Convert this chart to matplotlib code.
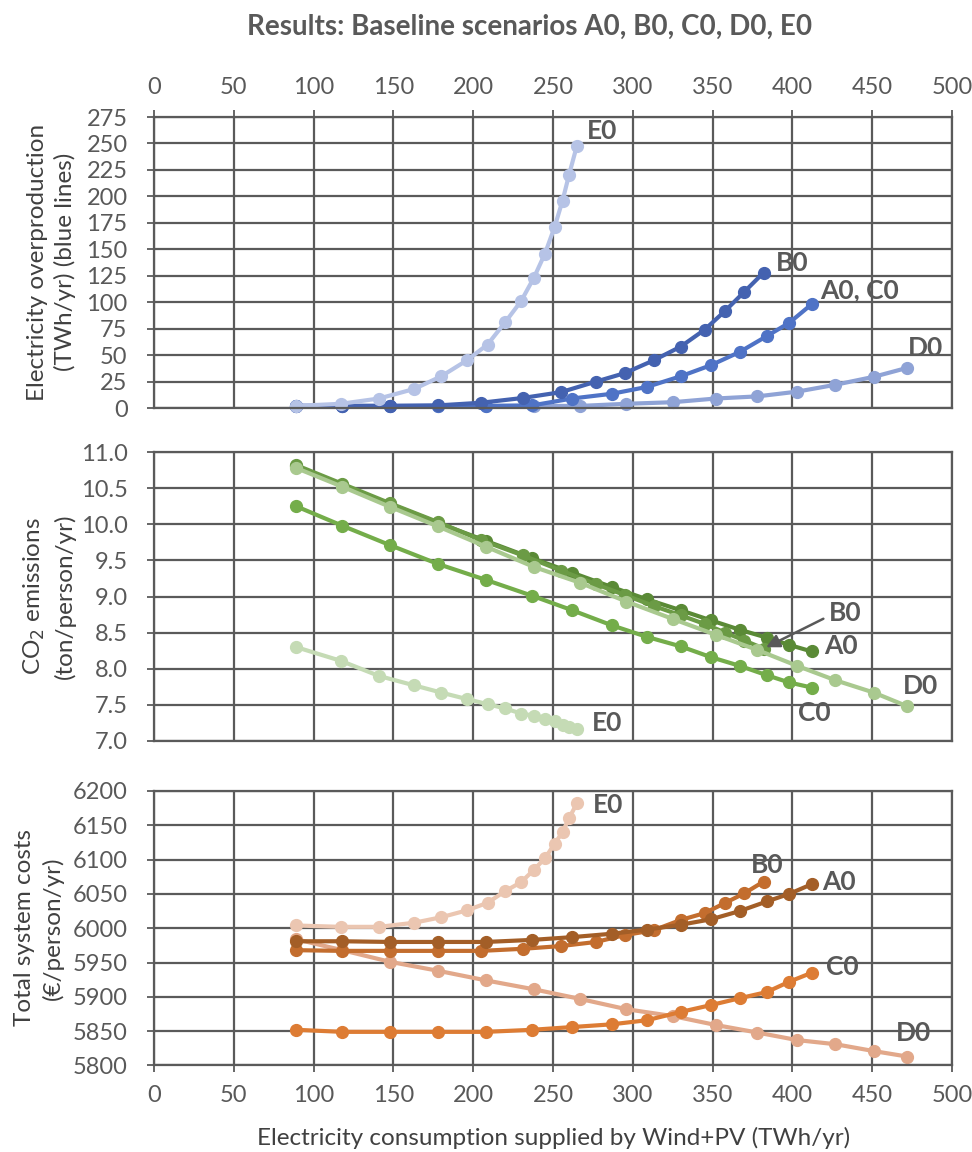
import matplotlib
matplotlib.use('Agg')
import matplotlib.pyplot as plt

plt.rcParams['font.family'] = ['Lato', 'DejaVu Sans']

# x positions: electricity consumption supplied by Wind+PV (TWh/yr)
x_A = [89, 118, 148, 178, 208, 237, 262, 287, 309, 330, 349, 367, 384, 398, 412]
x_B = [89, 118, 148, 178, 205, 231, 255, 277, 295, 313, 330, 345, 358, 370, 382]
x_C = x_A
x_D = [89, 118, 148, 178, 208, 238, 267, 296, 325, 352, 378, 403, 427, 451, 472]
x_E = [89, 117, 141, 163, 180, 196, 209, 220, 230, 238, 245, 251, 256, 260, 265]

# electricity overproduction (TWh/yr)
over_AC = [2, 2, 2, 2, 2, 2.5, 9, 13.5, 20, 30, 40.5, 53, 68, 80.5, 98]
over_B = [2, 2, 2, 2.5, 5, 9.5, 15, 25, 33, 45, 58, 74, 92, 110, 128]
over_D = [2, 2, 2, 2, 2, 2, 2, 4, 5.5, 9, 11, 15.5, 22, 29.5, 38]
over_E = [2, 4, 9, 18, 30, 45, 60, 81, 101, 123, 146, 171, 196, 220, 248]

# CO2 emissions (ton/person/yr)
co2_A = [10.80, 10.54, 10.28, 10.02, 9.77, 9.53, 9.33, 9.13, 8.96, 8.81, 8.67, 8.54, 8.43, 8.33, 8.24]
co2_B = [10.82, 10.56, 10.29, 10.03, 9.78, 9.57, 9.36, 9.17, 9.02, 8.87, 8.74, 8.62, 8.50, 8.39, 8.28]
co2_C = [10.25, 9.98, 9.71, 9.45, 9.23, 9.01, 8.81, 8.60, 8.44, 8.31, 8.16, 8.04, 7.91, 7.81, 7.74]
co2_D = [10.78, 10.52, 10.24, 9.97, 9.69, 9.41, 9.19, 8.93, 8.69, 8.47, 8.26, 8.04, 7.84, 7.67, 7.48]
co2_E = [8.30, 8.11, 7.90, 7.77, 7.67, 7.58, 7.51, 7.45, 7.38, 7.35, 7.30, 7.27, 7.22, 7.20, 7.17]

# total system costs (EUR/person/yr)
cost_A = [5981, 5981, 5980, 5980, 5980, 5983, 5987, 5992, 5998, 6005, 6013, 6025, 6039, 6050, 6064]
cost_B = [5968, 5967, 5967, 5967, 5967, 5970, 5974, 5980, 5990, 5997, 6012, 6022, 6037, 6051, 6068]
cost_C = [5852, 5849, 5849, 5849, 5849, 5852, 5856, 5860, 5866, 5878, 5888, 5898, 5907, 5922, 5935]
cost_D = [5984, 5968, 5951, 5938, 5924, 5911, 5897, 5882, 5872, 5859, 5848, 5837, 5831, 5821, 5813]
cost_E = [6004, 6002, 6002, 6008, 6016, 6026, 6037, 6054, 6067, 6085, 6102, 6123, 6140, 6160, 6182]

x_ticks = list(range(0, 501, 50))
over_ticks = list(range(0, 276, 25))
co2_ticks = [7.0, 7.5, 8.0, 8.5, 9.0, 9.5, 10.0, 10.5, 11.0]
cost_ticks = list(range(5800, 6201, 50))

GRID = '#5a5a5a'
TXT = '#595959'

fig = plt.figure(figsize=(9.72, 11.52), dpi=100)
ax1 = fig.add_axes([0.1584, 0.6458, 0.8210, 0.2526])
ax2 = fig.add_axes([0.1584, 0.3568, 0.8210, 0.2508])
ax3 = fig.add_axes([0.1584, 0.0751, 0.8210, 0.2383])


def style(ax, yticks, ylim, fmt, xpos):
    ax.set_xlim(0, 500)
    ax.set_ylim(*ylim)
    ax.set_xticks(x_ticks)
    ax.set_yticks(yticks)
    ax.set_yticklabels([fmt.format(v) for v in yticks])
    ax.grid(True, color=GRID, lw=1.6)
    ax.set_axisbelow(True)
    for s in ax.spines.values():
        s.set_color(GRID)
        s.set_linewidth(1.6)
    ax.tick_params(axis='y', direction='out', length=5, width=1.3, color=GRID,
                   labelsize=17, labelcolor=TXT, pad=14)
    if xpos == 'top':
        ax.xaxis.tick_top()
        ax.tick_params(axis='x', direction='inout', length=10, width=1.3, color=GRID,
                       labelsize=17, labelcolor=TXT, pad=9)
    elif xpos == 'bottom':
        ax.tick_params(axis='x', direction='inout', length=10, width=1.3, color=GRID,
                       labelsize=17, labelcolor=TXT, pad=9)
    else:
        ax.tick_params(axis='x', length=0, labelbottom=False)


def series(ax, x, y, color, lw=3.0, ms=8.5):
    ax.plot(x, y, color=color, lw=lw, marker='o', ms=ms, clip_on=False,
            solid_capstyle='round', solid_joinstyle='round')


def tag(ax, text, x, y, dx, dy):
    ax.annotate(text, xy=(x[-1], y[-1]), xytext=(dx, dy), textcoords='offset pixels',
                ha='left', va='center', fontsize=19, fontweight='bold', color=TXT)


# top panel: overproduction
style(ax1, over_ticks, (0, 275), '{:d}', 'top')
series(ax1, x_D, over_D, '#8fa3d6')
series(ax1, x_A, over_AC, '#4f73c6')
series(ax1, x_B, over_B, '#4462b0')
series(ax1, x_E, over_E, '#b6c3e6')
tag(ax1, 'E0', x_E, over_E, 10, 15)
tag(ax1, 'B0', x_B, over_B, 12, 10)
tag(ax1, 'A0, C0', x_A, over_AC, 9, 14)
tag(ax1, 'D0', x_D, over_D, 1, 20)

# middle panel: CO2
style(ax2, co2_ticks, (7, 11), '{:.1f}', 'none')
series(ax2, x_E, co2_E, '#c5dbb5')
series(ax2, x_C, co2_C, '#74ad4a')
series(ax2, x_A, co2_A, '#5a8a36')
series(ax2, x_B, co2_B, '#6b9b45')
series(ax2, x_D, co2_D, '#a9c98f')
tag(ax2, 'A0', x_A, co2_A, 13, 5)
tag(ax2, 'C0', x_C, co2_C, -14, -25)
tag(ax2, 'D0', x_D, co2_D, -4, 20)
tag(ax2, 'E0', x_E, co2_E, 15, 6)
ax2.annotate('B0', xy=(x_B[-1], co2_B[-1]), xytext=(65, 36), textcoords='offset pixels',
             ha='left', va='center', fontsize=19, fontweight='bold', color=TXT,
             arrowprops=dict(arrowstyle='-|>', color='#595959', lw=1.8,
                             mutation_scale=20, shrinkA=2, shrinkB=2,
                             relpos=(0, 0.35)))

# bottom panel: costs
style(ax3, cost_ticks, (5800, 6200), '{:d}', 'bottom')
series(ax3, x_E, cost_E, '#ebc6b1')
series(ax3, x_D, cost_D, '#e2a88a')
series(ax3, x_C, cost_C, '#dd7c34')
series(ax3, x_B, cost_B, '#c36d2e')
series(ax3, x_A, cost_A, '#a35e27')
tag(ax3, 'E0', x_E, cost_E, 16, -2)
tag(ax3, 'B0', x_B, cost_B, -13, 17)
tag(ax3, 'A0', x_A, cost_A, 11, 2)
tag(ax3, 'C0', x_C, cost_C, 14, 6)
tag(ax3, 'D0', x_D, cost_D, -11, 24)

# texts
fig.text(0.545, 0.9766, 'Results: Baseline scenarios A0, B0, C0, D0, E0',
         ha='center', va='center', fontsize=20, fontweight='bold', color=TXT)
fig.text(0.569, 0.0122, 'Electricity consumption supplied by Wind+PV (TWh/yr)',
         ha='center', va='center', fontsize=17.5, color='#404040')
fig.text(0.053, 0.7726, 'Electricity overproduction\n(TWh/yr) (blue lines)',
         rotation=90, ha='center', va='center', multialignment='center',
         fontsize=17.5, color='#404040', linespacing=1.35)
fig.text(0.050, 0.4826, 'CO$_2$ emissions\n(ton/person/yr)',
         rotation=90, ha='center', va='center', multialignment='center',
         fontsize=17.5, color='#404040', linespacing=1.35)
fig.text(0.040, 0.1945, 'Total system costs\n(€/person/yr)',
         rotation=90, ha='center', va='center', multialignment='center',
         fontsize=17.5, color='#404040', linespacing=1.35)

fig.savefig('out.png', dpi=100)
